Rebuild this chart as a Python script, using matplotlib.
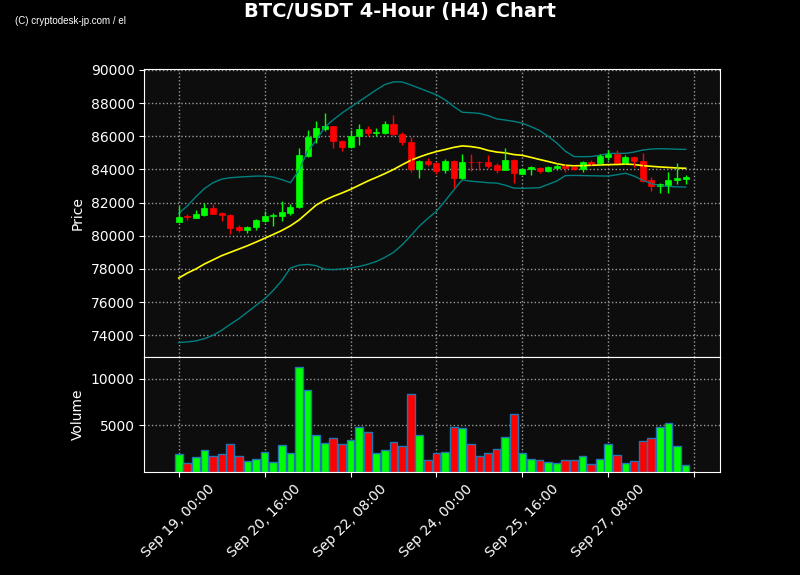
import matplotlib

matplotlib.use("Agg")

import matplotlib.pyplot as plt
import numpy as np
import pandas as pd


START = "2025-09-19 00:00"
N_CANDLES = 60

opens = [
    80860, 81200, 81100, 81280, 81700, 81400, 81280, 80500, 80320, 80520,
    80920, 81200, 81180, 81400, 81720, 84830, 85930, 86450, 86630, 85730,
    85330, 85990, 86450, 86200, 86170, 86750, 86150, 85670, 84000, 84530,
    84410, 83950, 84530, 83460, 84470, 84470, 84470, 84290, 83990, 84590,
    83750, 84010, 84110, 83930, 84110, 84230, 84170, 84010, 84470, 84370,
    84770, 84950, 84390, 84770, 84530, 83370, 82980, 83080, 83340, 83400,
]
highs = [
    81780, 81320, 81560, 81980, 81920, 81420, 81340, 80660, 80580, 81000,
    81480, 81380, 82080, 81920, 85290, 86370, 86910, 87390, 86650, 85750,
    86390, 86730, 86650, 86490, 86950, 87270, 86250, 85950, 84560, 84690,
    84470, 84630, 84590, 84930, 84930, 84530, 84870, 84390, 85290, 84620,
    84060, 84230, 84130, 84230, 84370, 84330, 84190, 84530, 84590, 84950,
    85190, 85190, 84870, 84790, 84990, 83550, 83180, 83850, 84390, 83670,
]
lows = [
    80850, 80960, 81050, 81180, 81300, 80900, 80120, 80220, 80180, 80340,
    80840, 80580, 80900, 81260, 81700, 84760, 85590, 86290, 85290, 85130,
    85300, 85490, 86010, 86030, 86150, 86030, 85470, 83820, 83480, 84190,
    83740, 83790, 82880, 83440, 83930, 83990, 84060, 83790, 83960, 83180,
    83720, 83670, 83770, 83830, 83970, 83850, 83990, 83830, 84270, 84350,
    84590, 84400, 84350, 84150, 83240, 82720, 82580, 82580, 83130, 83130,
]
closes = [
    81160, 81160, 81340, 81700, 81340, 81240, 80460, 80320, 80560, 80980,
    81220, 81240, 81460, 81760, 84890, 85970, 86510, 86630, 85690, 85330,
    86030, 86450, 86170, 86240, 86750, 86110, 85630, 84000, 84530, 84350,
    83930, 84530, 83460, 84470, 84430, 84430, 84230, 83990, 84590, 83760,
    84030, 84130, 83930, 84170, 84230, 84110, 84010, 84470, 84350, 84830,
    84930, 84410, 84770, 84490, 83320, 82980, 83140, 83380, 83460, 83520,
]
volumes = [
    1915, 990, 1596, 2340, 1702, 1915, 2979, 1702, 1170, 1383,
    2128, 1064, 2873, 2022, 11278, 8725, 3937, 3086, 3618, 2979,
    3405, 4788, 4256, 2022, 2340, 3192, 2766, 8299, 3937, 1277,
    2022, 2128, 4788, 4682, 2979, 1702, 2022, 2447, 3724, 6171,
    2022, 1383, 1277, 1064, 957, 1277, 1277, 1702, 851, 1383,
    2979, 1809, 957, 1170, 3298, 3618, 4788, 5214, 2766, 745,
]
sma = [
    77450, 77750, 78000, 78300, 78550, 78800, 79000, 79200, 79400, 79620,
    79850, 80080, 80320, 80600, 80950, 81400, 81850, 82150, 82380, 82580,
    82800, 83050, 83300, 83520, 83750, 84000, 84280, 84550, 84750, 84930,
    85080, 85200, 85330, 85420, 85380, 85300, 85150, 85050, 85000, 84900,
    84850, 84730, 84600, 84480, 84350, 84250, 84220, 84230, 84250, 84270,
    84290, 84300, 84320, 84300, 84230, 84190, 84150, 84120, 84090, 84070,
]
upper = [
    81340, 81800, 82350, 82850, 83200, 83420, 83500, 83540, 83570, 83600,
    83600, 83540, 83390, 83200, 83950, 85100, 85750, 86550, 87000, 87400,
    87750, 88100, 88450, 88800, 89120, 89280, 89280, 89100, 88900, 88700,
    88500, 88200, 87800, 87450, 87420, 87380, 87250, 87050, 86980, 86900,
    86790, 86580, 86350, 86000, 85600, 85100, 84780, 84770, 84780, 84850,
    84960, 84970, 84970, 85050, 85170, 85230, 85250, 85240, 85220, 85210,
]
lower = [
    73560, 73600, 73660, 73800, 74000, 74300, 74660, 75000, 75400, 75800,
    76200, 76700, 77300, 78050, 78230, 78270, 78200, 77980, 77960, 78000,
    78060, 78150, 78280, 78450, 78700, 79000, 79450, 80000, 80580, 81050,
    81480, 82100, 82750, 83380, 83290, 83250, 83200, 83180, 83050, 82880,
    82860, 82880, 82900, 83100, 83300, 83630, 83640, 83630, 83620, 83610,
    83600, 83680, 83770, 83600, 83350, 83150, 83030, 82980, 82950, 82940,
]

UP = "#00ff00"
DOWN = "#ff0000"
BG = "#0d0d0d"


def style_axes(ax):
    ax.set_facecolor(BG)
    for spine in ax.spines.values():
        spine.set_color("white")
    ax.tick_params(colors="white", labelsize=10)
    ax.grid(True, color="#9a9a9a", linestyle=":", linewidth=1.0)
    ax.set_axisbelow(True)


def main():
    times = pd.date_range(START, periods=N_CANDLES, freq="4h")
    x = np.arange(N_CANDLES)
    o = np.array(opens, dtype=float)
    c = np.array(closes, dtype=float)
    colors = [UP if cc >= oo else DOWN for oo, cc in zip(o, c)]

    fig = plt.figure(figsize=(8, 5.75), dpi=100, facecolor="black")
    ax = fig.add_axes([0.1804, 0.3791, 0.7196, 0.5004])
    axv = fig.add_axes([0.1804, 0.1791, 0.7196, 0.2000], sharex=ax)
    style_axes(ax)
    style_axes(axv)

    # bands and moving average
    ax.plot(x, upper, color="teal", linewidth=1.0)
    ax.plot(x, lower, color="teal", linewidth=1.0)
    ax.plot(x, sma, color="yellow", linewidth=1.2)

    # candles
    ax.vlines(x, lows, highs, colors=colors, linewidth=1.0)
    body_low = np.minimum(o, c)
    body_h = np.maximum(np.abs(c - o), 25)
    ax.bar(x, body_h, bottom=body_low, width=0.7, color=colors, edgecolor=colors, linewidth=0.5)

    ax.set_ylim(72690, 90040)
    ax.set_yticks(np.arange(74000, 90001, 2000))
    ax.set_ylabel("Price", color="white", fontsize=10)
    plt.setp(ax.get_xticklabels(), visible=False)
    ax.tick_params(axis="x", length=0)

    # volume
    axv.bar(x, volumes, width=0.9, color=colors, edgecolor="#1f77b4", linewidth=1.0)
    axv.set_ylim(0, 12300)
    axv.set_yticks([5000, 10000])
    axv.set_ylabel("Volume", color="white", fontsize=10)

    ticks = np.arange(0, N_CANDLES + 1, 10)
    labels = [times[t].strftime("%b %d, %H:%M") if t < N_CANDLES else "" for t in ticks]
    axv.set_xticks(ticks)
    axv.set_xticklabels(labels, rotation=45)
    axv.set_xlim(-4, 63)

    fig.suptitle("BTC/USDT 4-Hour (H4) Chart", color="white", fontsize=14, fontweight="bold", y=0.997)
    fig.text(0.019, 0.964, "(C) cryptodesk-jp.com / el", color="white", fontsize=7,
             family=["Liberation Sans Narrow", "Liberation Sans"], fontstretch="condensed",
             va="center", ha="left")

    fig.savefig("out.png", dpi=100, facecolor="black")
    plt.close(fig)


if __name__ == "__main__":
    main()
